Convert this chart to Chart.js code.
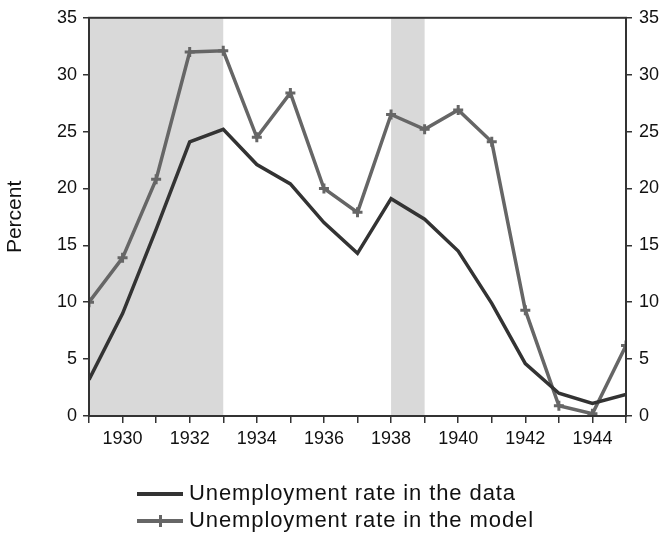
<!DOCTYPE html>
<html><head><meta charset="utf-8">
<script src="https://cdn.jsdelivr.net/npm/chart.js@4"></script>
<style>
html,body{margin:0;padding:0;background:#fff;}
#wrap{position:relative;width:661px;height:537px;}
canvas{position:absolute;left:0;top:0;}
.leg{position:absolute;left:137px;font-family:"Liberation Sans",Arial,sans-serif;font-size:22px;letter-spacing:0.9px;color:#111;white-space:nowrap;}
.leg .s{position:absolute;left:0;width:46px;height:4px;}
.leg .t{position:absolute;left:52px;}
</style></head>
<body><div id="wrap"><canvas id="c" width="661" height="537"></canvas>
<div class="leg" style="top:480px"><div class="s" style="top:12px;background:#333"></div><div class="t">Unemployment rate in the data</div></div>
<div class="leg" style="top:507px"><div class="s" style="top:12px;background:#666"></div><div style="position:absolute;left:22px;top:8px;width:3px;height:12px;background:#666"></div><div class="t">Unemployment rate in the model</div></div>
</div>
<script>
const years = [1929,1930,1931,1932,1933,1934,1935,1936,1937,1938,1939,1940,1941,1942,1943,1944,1945];
const dataRate = [3.2,9.0,16.4,24.1,25.2,22.1,20.4,17.0,14.3,19.1,17.3,14.5,9.9,4.6,2.0,1.1,1.9];
const modelRate = [10.0,13.9,20.8,32.0,32.1,24.5,28.4,20.0,17.9,26.5,25.2,26.9,24.1,9.3,0.9,0.2,6.2];
const recessions = [[1929,1933],[1938,1939]];
const yTicks = [0,5,10,15,20,25,30,35];

const tickFont = {family:"Liberation Sans, Arial, sans-serif", size:18};
const shade = {
  id:'shade',
  beforeDatasetsDraw(chart){
    const {ctx, chartArea:a, scales:{x}} = chart;
    ctx.save();
    ctx.fillStyle = '#d9d9d9';
    recessions.forEach(([s,e])=>{
      const x1 = x.getPixelForValue(s), x2 = x.getPixelForValue(e);
      ctx.fillRect(x1, a.top, x2-x1, a.bottom-a.top);
    });
    ctx.restore();
  },
  afterDatasetsDraw(chart){
    const {ctx, chartArea:a} = chart;
    ctx.save();
    ctx.strokeStyle = '#333';
    ctx.lineWidth = 2;
    ctx.strokeRect(a.left, a.top, a.right-a.left, a.bottom-a.top);
    ctx.restore();
  }
};

new Chart(document.getElementById('c'), {
  type:'line',
  data:{
    datasets:[
      {label:'Unemployment rate in the data', data:years.map((y,i)=>({x:y,y:dataRate[i]})),
       borderColor:'#333', borderWidth:3.5, pointRadius:0, tension:0, yAxisID:'y'},
      {label:'Unemployment rate in the model', data:years.map((y,i)=>({x:y,y:modelRate[i]})),
       borderColor:'#666', backgroundColor:'#666', borderWidth:3.5, pointStyle:'cross', pointRadius:5, pointBorderWidth:3, tension:0, yAxisID:'y'}
    ]
  },
  options:{
    responsive:false, animation:false,
    layout:{padding:{top:15,bottom:0,left:0,right:0}},
    plugins:{legend:{display:false}, tooltip:{enabled:false}},
    scales:{
      x:{type:'linear', min:1929, max:1945,
         afterFit(s){s.height=121;},
         afterBuildTicks(s){s.ticks = years.map(v=>({value:v}));},
         ticks:{font:tickFont, color:'#111', maxRotation:0, autoSkip:false, padding:5,
                callback:(v)=> (v%2===0 ? String(v) : '')},
         grid:{drawOnChartArea:false, tickLength:7, color:'#333', lineWidth:1.5},
         border:{color:'#333', width:2}},
      y:{position:'left', min:0, max:35,
         afterFit(s){s.width=89;},
         afterBuildTicks(s){s.ticks = yTicks.map(v=>({value:v}));},
         title:{display:true, text:'Percent', font:{family:"Liberation Sans, Arial, sans-serif", size:21}, color:'#111', padding:{top:3,bottom:0}},
         ticks:{font:tickFont, color:'#111', padding:6},
         grid:{drawOnChartArea:false, tickLength:6, color:'#333', lineWidth:1.5},
         border:{color:'#333', width:2}},
      y2:{position:'right', min:0, max:35,
         afterFit(s){s.width=35;},
         afterBuildTicks(s){s.ticks = yTicks.map(v=>({value:v}));},
         ticks:{font:tickFont, color:'#111', padding:7},
         grid:{drawOnChartArea:false, tickLength:6, color:'#333', lineWidth:1.5},
         border:{color:'#333', width:2}}
    }
  },
  plugins:[shade]
});
</script></body></html>
